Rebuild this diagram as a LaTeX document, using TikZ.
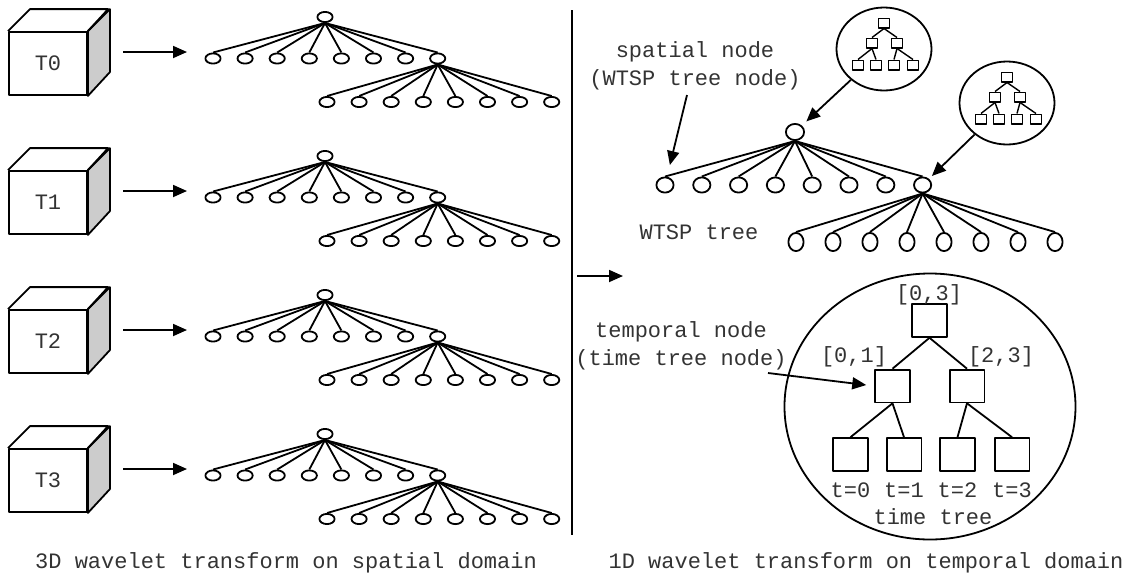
\documentclass[tikz,border=0pt]{standalone}
\usepackage{fontspec}
\setmonofont{Liberation Mono}
\usetikzlibrary{positioning, shapes.geometric, arrows.meta}

\begin{document}
\begin{tikzpicture}[x=0.5pt, y=-0.5pt, line width=0.9pt, line join=round,
  every node/.style={font=\ttfamily\fontsize{11pt}{14pt}\selectfont, text=black!80},
  leaf/.style={draw, ellipse, inner sep=0pt, minimum width=7.6pt, minimum height=5.1pt},
  wroot/.style={draw, ellipse, inner sep=0pt, minimum width=9.1pt, minimum height=8.1pt},
  wmid/.style={draw, ellipse, inner sep=0pt, minimum width=8.6pt, minimum height=7.6pt},
  wleaf/.style={draw, ellipse, inner sep=0pt, minimum width=7.6pt, minimum height=9.1pt},
  cubeface/.style={draw, rectangle, inner sep=0pt, minimum width=39pt, minimum height=31.5pt},
  tbox/.style={draw, rectangle, inner sep=0pt, minimum width=17.4pt, minimum height=16.4pt},
  sbox/.style={draw, rectangle, inner sep=0pt, minimum width=5.5pt, minimum height=4.8pt, line width=0.7pt},
  bubble/.style={draw, ellipse, inner sep=0pt, minimum width=47.5pt, minimum height=41.5pt},
  arr/.style={-{Triangle[length=7pt, width=6pt]}}]
  \useasboundingbox (0,0) rectangle (1131,579);

  % left half: one cube and one tree per time step
  \foreach \k in {0,...,3} {
    \node[cubeface] (T\k) at (48,63.5+139*\k) {T\k};
    \filldraw[fill=gray!40] (T\k.north east) -- ++(22,-22) -- ++(0,63) -- (T\k.south east) -- cycle;
    \draw (T\k.north west) -- ++(22,-22) -- ++(78,0) -- (T\k.north east);
    \coordinate (as\k) at (123,52+139*\k);
    \coordinate (ae\k) at (187,52+139*\k);
    \draw[arr] (as\k) -- (ae\k);

    \node[leaf] (r\k) at (325,17+139*\k) {};
    \foreach \i in {0,...,7} {
      \node[leaf] (a\k\i) at (213+32.1*\i,58.5+139*\k) {};
      \draw (r\k.south) -- (a\k\i.north);
    }
    \foreach \i in {0,...,7} {
      \node[leaf] (b\k\i) at (327+32.1*\i,102+139*\k) {};
      \draw (a\k7.south) -- (b\k\i.north);
    }
  }

  \coordinate (dtop) at (572,10);
  \coordinate (dbot) at (572,535);
  \draw (dtop) -- (dbot);
  \coordinate (ms) at (577,276);
  \coordinate (me) at (623,276);
  \draw[arr] (ms) -- (me);

  % WTSP tree
  \node[wroot] (w) at (795,132) {};
  \foreach \i in {0,...,7} {
    \node[wmid] (w\i) at (665+36.8*\i,185) {};
    \draw (w.south) -- (w\i.north);
  }
  \foreach \i in {0,...,7} {
    \node[wleaf] (v\i) at (796+37*\i,242) {};
    \draw (w7.south) -- (v\i.north);
  }
  \node at (699,232) {WTSP tree};

  % time trees hanging on spatial nodes
  \foreach \c/\cx/\cy in {1/884/49, 2/1007/103} {
    \node[bubble] (s\c) at (\cx,\cy) {};
    \node[sbox] (s\c-r) at (\cx,\cy-26) {};
    \node[sbox] (s\c-a) at (\cx-12,\cy-6) {};
    \node[sbox] (s\c-b) at (\cx+13,\cy-6) {};
    \node[sbox] (s\c-1) at (\cx-26,\cy+16) {};
    \node[sbox] (s\c-2) at (\cx-8,\cy+16) {};
    \node[sbox] (s\c-3) at (\cx+10,\cy+16) {};
    \node[sbox] (s\c-4) at (\cx+29,\cy+16) {};
    \draw[line width=0.7pt] (s\c-r.south) -- (s\c-a.north);
    \draw[line width=0.7pt] (s\c-r.south) -- (s\c-b.north);
    \draw[line width=0.7pt] (s\c-a.south) -- (s\c-1.north);
    \draw[line width=0.7pt] (s\c-a.south) -- (s\c-2.north);
    \draw[line width=0.7pt] (s\c-b.south) -- (s\c-3.north);
    \draw[line width=0.7pt] (s\c-b.south) -- (s\c-4.north);
  }
  \draw[arr, shorten >=3pt] (s1) -- (w);
  \draw[arr, shorten >=2pt] (s2) -- (w7);

  \node[align=center] (slab) at (695,66) {spatial node\\(WTSP tree node)};
  \coordinate (sarr) at (687,95);
  \draw[arr, shorten >=6pt] (sarr) -- (w0);

  % time tree
  \node[draw, ellipse, inner sep=0pt, minimum width=145.5pt, minimum height=133pt] (tt) at (930,406.5) {};
  \node[tbox] (t03) at (929.5,320.5) {};
  \node[tbox] (t01) at (892.5,386) {};
  \node[tbox] (t23) at (967,386) {};
  \node[tbox] (t0) at (850.5,454.5) {};
  \node[tbox] (t1) at (904,454.5) {};
  \node[tbox] (t2) at (957.5,454.5) {};
  \node[tbox] (t3) at (1012,454.5) {};
  \draw (t03.south) -- (t01.north);
  \draw (t03.south) -- (t23.north);
  \draw (t01.south) -- (t0.north);
  \draw (t01.south) -- (t1.north);
  \draw (t23.south) -- (t2.north);
  \draw (t23.south) -- (t3.north);
  \node at (929,295) {[0,3]};
  \node at (854,357) {[0,1]};
  \node at (1001,357) {[2,3]};
  \node at (850.5,490) {t=0};
  \node at (904,490) {t=1};
  \node at (957.5,490) {t=2};
  \node at (1012,490) {t=3};
  \node at (933,517) {time tree};

  \node[align=center] (tlab) at (681,346) {temporal node\\(time tree node)};
  \coordinate (tarr) at (768,373);
  \draw[arr, shorten >=4pt] (tarr) -- (t01.west);

  \node at (286,563) {3D wavelet transform on spatial domain};
  \node at (866,563) {1D wavelet transform on temporal domain};
\end{tikzpicture}
\end{document}
